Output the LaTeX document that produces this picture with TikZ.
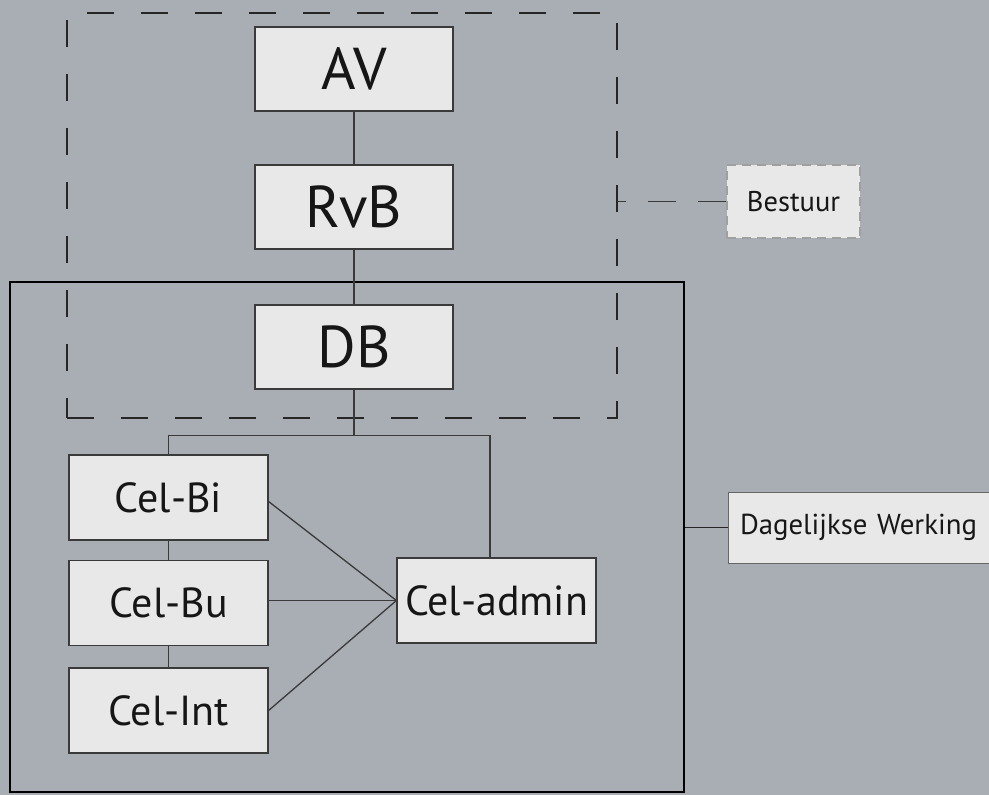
\documentclass[tikz,border=0pt]{standalone}
\usepackage{fontspec}
\setmainfont{PT Sans}
\definecolor{bg}{HTML}{A8AEB4}
\definecolor{boxfill}{HTML}{E8E8E8}
\definecolor{boxline}{HTML}{3A3A3A}
\definecolor{txt}{HTML}{161616}
\tikzset{
  bigbox/.style={draw=boxline, line width=1.2pt, fill=boxfill, minimum width=198pt, minimum height=84pt, inner sep=0pt, text=txt, font=\fontsize{59}{60}\selectfont},
  celbox/.style={draw=boxline, line width=1.2pt, fill=boxfill, minimum width=199pt, minimum height=85pt, inner sep=0pt, text=txt, font=\fontsize{42}{44}\selectfont},
  tagbox/.style={fill=boxfill, inner sep=0pt, text=txt},
  link/.style={draw=boxline, line width=1.3pt},
}
\begin{document}
\begin{tikzpicture}[x=1pt,y=-1pt]
\useasboundingbox[fill=bg] (0,0) rectangle (989,795);
% groups
\node[draw=black, line width=2pt, minimum width=674pt, minimum height=510pt, inner sep=0pt] (werkgroup) at (347,537) {};
\node[draw=black!85, line width=1.8pt, dash pattern=on 27pt off 27pt, minimum width=550pt, minimum height=405pt, inner sep=0pt] (bestgroup) at (342,215.5) {};
% top boxes
\node[bigbox] (av) at (354,69) {AV};
\node[bigbox] (rvb) at (354,207) {RvB};
\node[bigbox] (db) at (354,347) {DB};
% cells
\node[celbox] (celbi) at (168.5,497.5) {Cel-Bi};
\node[celbox] (celbu) at (168.5,603) {Cel-Bu};
\node[celbox] (celint) at (168.5,710.5) {Cel-Int};
\node[celbox] (celadmin) at (496.5,600.5) {Cel-admin};
% tags
\node[tagbox, font=\fontsize{28.5}{30}\selectfont, draw=gray!75, line width=1.2pt, dash pattern=on 9pt off 6pt, minimum width=133pt, minimum height=73pt] (bestuur) at (793.5,201.5) {Bestuur};
\node[tagbox, font=\fontsize{28.8}{30}\selectfont, draw=gray!80!black, line width=1pt, minimum width=266pt, minimum height=71pt, text width=242pt, align=left] (dw) at (861,527.5) {Dagelijkse Werking};
% connectors
\draw[link] (av) -- (rvb);
\draw[link] (rvb) -- (db);
\draw[link] (db.south) -- ++(0,46) coordinate (bus);
\draw[link] (celbi.north) |- (bus) -| ([xshift=-6.5pt]celadmin.north);
\draw[link] (celbi) -- (celbu);
\draw[link] (celbu) -- (celint);
\draw[link] ([yshift=-4pt]celbi.east) -- (celadmin.west);
\draw[link] (celbu.east |- celadmin.west) -- (celadmin.west);
\draw[link] (celint.east) -- (celadmin.west);
\draw[draw=boxline, line width=1.5pt, dash pattern=on 28pt off 22pt] (bestuur.west) -- (bestuur.west -| bestgroup.east);
\draw[draw=black!85, line width=1.5pt] (dw.west) -- (dw.west -| werkgroup.east);
\end{tikzpicture}
\end{document}
